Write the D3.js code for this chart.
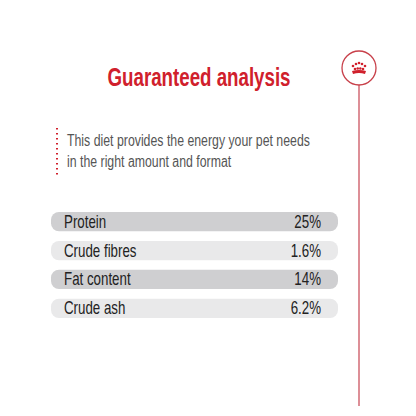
<!DOCTYPE html>
<html><head><meta charset="utf-8">
<script src="https://cdn.jsdelivr.net/npm/d3@7"></script>
<style>body{margin:0;background:#fff}</style>
</head><body><svg></svg>
<script>
var nutrients = ["Protein", "Crude fibres", "Fat content", "Crude ash"];
var values = ["25%", "1.6%", "14%", "6.2%"];
var title = "Guaranteed analysis";
var intro = ["This diet provides the energy your pet needs", "in the right amount and format"];

var W = 416, H = 416;
var svg = d3.select("svg").attr("width", W).attr("height", H);
var red = "#d0202c";
var font = "'Liberation Sans', 'DejaVu Sans', sans-serif";

// texte condensé : on écrase horizontalement autour de x
function squeeze(sel, x, k) {
  sel.attr("x", 0).attr("transform", function () {
    var t = d3.select(this).attr("data-ty") || 0;
    return "translate(" + x + "," + t + ") scale(" + k + ",1)";
  });
}

// titre
svg.append("text").attr("y", 86)
  .attr("text-anchor", "middle").attr("fill", red)
  .style("font-family", font).style("font-weight", "bold").style("font-size", "26px")
  .text(title).call(squeeze, 199, 0.72);

// texte d'intro + ligne pointillée
svg.append("line").attr("x1", 57).attr("x2", 57).attr("y1", 128).attr("y2", 176)
  .attr("stroke", red).attr("stroke-width", 2).attr("stroke-dasharray", "1.5,3.5");
svg.selectAll(".intro").data(intro).enter().append("text")
  .attr("y", function (d, i) { return 146 + i * 21; })
  .attr("fill", "#555").style("font-family", font).style("font-size", "16px")
  .text(function (d) { return d; }).call(squeeze, 67, 0.77);

// lignes du tableau
var y = d3.scaleBand().domain(nutrients).range([212, 318]).paddingInner(0.33).paddingOuter(0);
var x0 = 51, x1 = 338;
var rows = svg.selectAll(".row").data(nutrients).enter().append("g")
  .attr("transform", function (d) { return "translate(0," + y(d) + ")"; });
rows.append("rect").attr("x", x0).attr("width", x1 - x0).attr("height", y.bandwidth())
  .attr("rx", 8).attr("fill", function (d, i) { return i % 2 ? "#e9e9ea" : "#cfcfd1"; });
rows.append("text").attr("y", y.bandwidth() / 2 + 6)
  .attr("fill", "#222").style("font-family", font).style("font-size", "18px")
  .text(function (d) { return d; }).call(squeeze, 64, 0.74);
rows.append("text").attr("y", y.bandwidth() / 2 + 6)
  .attr("text-anchor", "end").attr("fill", "#222").style("font-family", font).style("font-size", "18px")
  .text(function (d, i) { return values[i]; }).call(squeeze, 321, 0.74);

// ligne verticale + couronne
var cx = 359, cy = 68, r = 17;
svg.append("line").attr("x1", cx).attr("x2", cx).attr("y1", cy + r).attr("y2", 406)
  .attr("stroke", "#d26a74").attr("stroke-width", 1.5);
svg.append("circle").attr("cx", cx).attr("cy", cy).attr("r", r)
  .attr("fill", "#fff").attr("stroke", "#c8404a").attr("stroke-width", 1.3);
var crown = svg.append("g").attr("fill", red);
[[-6, -2], [-3, -4], [0, -5], [3, -4], [6, -2], [-4, 1], [-1.3, 0.5], [1.3, 0.5], [4, 1]].forEach(function (p) {
  crown.append("circle").attr("cx", cx + p[0]).attr("cy", cy + p[1]).attr("r", 1.3);
});
crown.append("path").attr("d", "M" + (cx - 7) + "," + (cy + 3) + " Q" + cx + "," + (cy + 1) + " " + (cx + 7) + "," + (cy + 3) +
  " L" + (cx + 6) + "," + (cy + 6) + " Q" + cx + "," + (cy + 4) + " " + (cx - 6) + "," + (cy + 6) + "Z");
</script>
</body></html>
